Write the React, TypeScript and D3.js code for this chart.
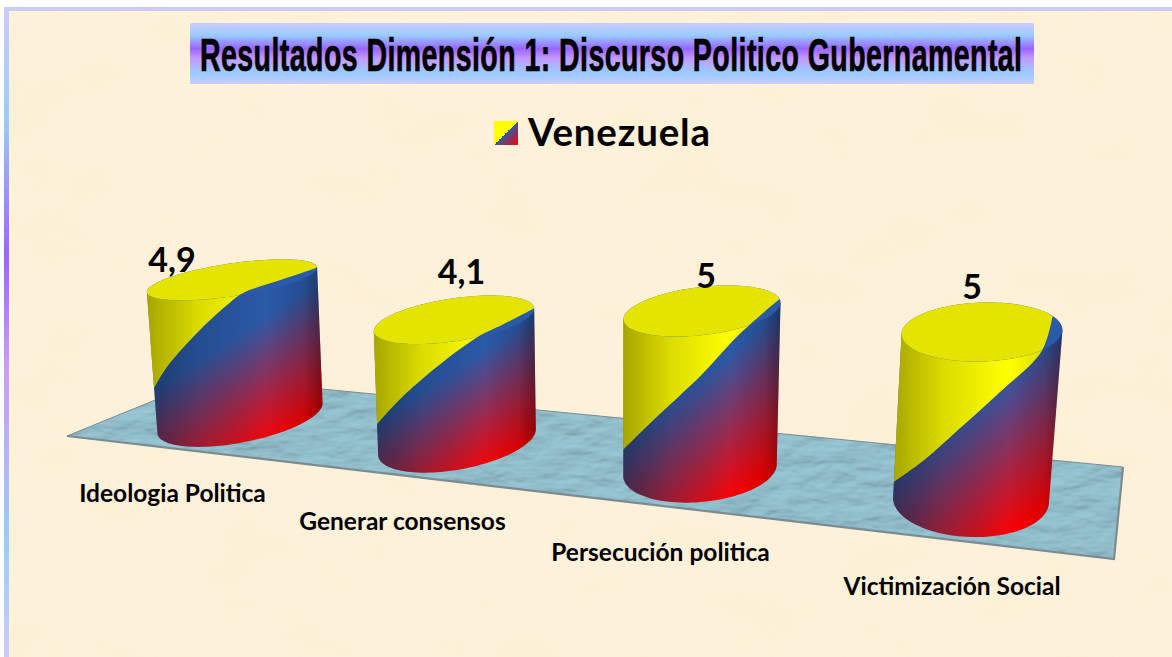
import React from "react";
import * as d3 from "d3";

const titleText = "Resultados Dimensión 1: Discurso Politico Gubernamental";
const seriesName = "Venezuela";
const categories = ["Ideologia Politica", "Generar consensos", "Persecución politica", "Victimización Social"];
const values = [4.9, 4.1, 5, 5];
const valueLabels = ["4,9", "4,1", "5", "5"];

// Per-cylinder yellow/blue boundary, as fractions of each cylinder's outline box.
const edgeU = [
  [0.045, 0.114, 0.284, 0.455, 0.545, 0.756, 0.96],
  [0.018, 0.14, 0.346, 0.636, 0.796, 0.988],
  [0, 0.176, 0.5, 0.737, 0.99],
  [0.006, 0.186, 0.385, 0.627, 0.876, 0.94],
];
const edgeV = [
  [0.68, 0.574, 0.394, 0.245, 0.181, 0.112, 0.048],
  [0.729, 0.605, 0.435, 0.237, 0.164, 0.073],
  [0.756, 0.631, 0.41, 0.226, 0.065],
  [0.765, 0.671, 0.543, 0.385, 0.209, 0.064],
];

const slots = d3.range(categories.length);
const perSlot = (range: number[]) => d3.scaleLinear().domain(slots).range(range);

// Perspective: every quantity changes from the near-left to the far-right slot.
const baseX = perSlot([240, 457, 700, 971]);
const baseY = perSlot([418, 442, 470, 500]);
const unitH = perSlot([28.2, 29.8, 31.8, 33.6]);
const lean = perSlot([-8, -3, 2, 11]);
const topA = perSlot([86, 81, 79, 80.5]);
const topB = perSlot([16.4, 21.4, 24, 29.5]);
const topRot = perSlot([-8.4, -8.5, -6.7, -1.8]);
const baseA = perSlot([84, 80, 77, 78]);
const baseB = perSlot([24.5, 27.5, 32, 37]);
const baseRot = perSlot([-11, -10.4, -5.3, 2]);
const labelX = perSlot([172.5, 402.5, 660.5, 952]);
const labelY = perSlot([502, 530, 561, 595]);
const valueX = perSlot([172, 461.5, 706, 972]);
const valueY = perSlot([272, 284, 288, 299]);

type Ell = { cx: number; cy: number; a: number; b: number; phi: number };
const at = (e: Ell, t: number): [number, number] => [
  e.cx + e.a * Math.cos(t) * Math.cos(e.phi) - e.b * Math.sin(t) * Math.sin(e.phi),
  e.cy + e.a * Math.cos(t) * Math.sin(e.phi) + e.b * Math.sin(t) * Math.cos(e.phi),
];
const extremeT = (e: Ell) => Math.atan2(-e.b * Math.sin(e.phi), e.a * Math.cos(e.phi));
const linePath = d3.line().curve(d3.curveLinearClosed);
const edgeCurve = d3.line().curve(d3.curveCatmullRom);

function cylinder(i: number) {
  const h = d3.scaleLinear().domain([0, 5]).range([0, 5 * unitH(i)]);
  const top: Ell = {
    cx: baseX(i) + lean(i),
    cy: baseY(i) - h(values[i]),
    a: topA(i),
    b: topB(i),
    phi: (topRot(i) * Math.PI) / 180,
  };
  const bot: Ell = { cx: baseX(i), cy: baseY(i), a: baseA(i), b: baseB(i), phi: (baseRot(i) * Math.PI) / 180 };
  const t0 = extremeT(bot);
  const front = d3.range(0, 61).map((k) => at(bot, t0 + (Math.PI * k) / 60));
  const s0 = extremeT(top);
  const side = [at(top, s0 + Math.PI), at(top, s0), ...front];
  const full = d3.range(0, 121).map((k) => at(top, (2 * Math.PI * k) / 120));
  const all = [...full, ...side];
  const [x0, x1] = d3.extent(all, (p) => p[0]) as [number, number];
  const [y0, y1] = d3.extent(all, (p) => p[1]) as [number, number];
  const uS = d3.scaleLinear().range([x0, x1]);
  const vS = d3.scaleLinear().range([y0, y1]);
  const edge = edgeU[i].map((u, k) => [uS(u), vS(edgeV[i][k])] as [number, number]);
  const first = edge[0];
  const edgeD = edgeCurve(edge) as string;
  const yellowD = `${edgeD}L${x1 + 30},${y0 - 30}L${x0 - 30},${y0 - 30}L${x0 - 30},${first[1]}L${first[0] - 30},${first[1] + 22}L${first[0]},${first[1]}Z`;
  return {
    i,
    sideD: linePath(side) as string,
    topD: linePath(full) as string,
    yellowD,
    box: { x0, x1, y0, y1 },
  };
}

const cylinders = slots.map(cylinder);

const floorPts: [number, number][] = [
  [67, 436],
  [209, 378],
  [1123, 467],
  [1114, 559],
];

const flagYellow = "#ffff00";
const flagBlue = "#2b5aa8";
const flagRed = "#ff0000";
const sans = "Lato, Carlito, 'Open Sans', sans-serif";

export default function App() {
  return (
    <svg
      width={1172}
      height={657}
      viewBox="0 0 1172 657"
      style={{ position: "absolute", left: 0, top: 0, display: "block" }}
    >
      <defs>
        <linearGradient id="band" x1="0" y1="0" x2="0" y2="1">
          <stop offset="0" stopColor="#cbcbff" />
          <stop offset="0.2" stopColor="#99ccff" />
          <stop offset="0.42" stopColor="#9966ff" />
          <stop offset="0.58" stopColor="#c299ff" />
          <stop offset="0.82" stopColor="#99ccff" />
          <stop offset="1" stopColor="#cbcbff" />
        </linearGradient>
        <linearGradient id="sideBand" x1="0" y1="0" x2="0" y2="1">
          <stop offset="0" stopColor="#cbcbff" />
          <stop offset="0.17" stopColor="#99ccff" />
          <stop offset="0.38" stopColor="#9966ff" />
          <stop offset="0.55" stopColor="#cc99ff" />
          <stop offset="0.82" stopColor="#99ccff" />
          <stop offset="1" stopColor="#cbcbff" />
        </linearGradient>
        <linearGradient id="blueRed" x1="0.18" y1="0.22" x2="0.66" y2="1">
          <stop offset="0.36" stopColor={flagBlue} />
          <stop offset="1" stopColor={flagRed} />
        </linearGradient>
        <linearGradient id="shade" x1="0" y1="0" x2="1" y2="0">
          <stop offset="0" stopColor="#000" stopOpacity="0.36" />
          <stop offset="0.3" stopColor="#000" stopOpacity="0.14" />
          <stop offset="0.68" stopColor="#000" stopOpacity="0" />
          <stop offset="0.88" stopColor="#000" stopOpacity="0.14" />
          <stop offset="1" stopColor="#000" stopOpacity="0.42" />
        </linearGradient>
        <linearGradient id="legendSwatch" x1="0" y1="0" x2="1" y2="1">
          <stop offset="0.5" stopColor={flagYellow} />
          <stop offset="0.5" stopColor={flagBlue} />
          <stop offset="1" stopColor={flagRed} />
        </linearGradient>
        <filter id="parchment" x="0" y="0" width="100%" height="100%">
          <feTurbulence type="fractalNoise" baseFrequency="0.011 0.019" numOctaves="4" seed="7" />
          <feColorMatrix
            type="matrix"
            values="0 0 0 0 0.93  0 0 0 0 0.83  0 0 0 0 0.58  1.6 0 0 0 -0.62"
          />
        </filter>
        <filter id="water" x="0" y="0" width="100%" height="100%">
          <feTurbulence type="fractalNoise" baseFrequency="0.03 0.065" numOctaves="3" seed="11" result="n" />
          <feDiffuseLighting in="n" surfaceScale="2.4" diffuseConstant="1" lightingColor="#9ac8d6" result="lit">
            <feDistantLight azimuth="250" elevation="62" />
          </feDiffuseLighting>
          <feComposite in="lit" in2="SourceGraphic" operator="in" />
        </filter>
        {cylinders.map((c) => (
          <clipPath id={`side${c.i}`} key={`side${c.i}`}>
            <path d={c.sideD} />
          </clipPath>
        ))}
        {cylinders.map((c) => (
          <clipPath id={`top${c.i}`} key={`top${c.i}`}>
            <path d={c.topD} />
          </clipPath>
        ))}
      </defs>

      <rect x={0} y={0} width={1172} height={657} fill="#ffffff" />
      <rect x={9} y={11} width={1163} height={646} fill="#fdf1da" />
      <rect x={9} y={11} width={1163} height={646} filter="url(#parchment)" opacity={0.36} />
      <rect x={4} y={7} width={5} height={650} fill="url(#sideBand)" />
      <rect x={4} y={7} width={1168} height={4} fill="#cbcbf6" />

      <rect x={190} y={23} width={844} height={61} fill="url(#band)" />
      <text
        transform="translate(200,71) scale(0.62,1)"
        fontFamily="'Liberation Sans Narrow', 'Liberation Sans', sans-serif"
        fontWeight={700}
        fontSize={46}
        letterSpacing={0.7}
        stroke="#000"
        strokeWidth={0.7}
        fill="#000"
      >
        {titleText}
      </text>

      <rect x={494} y={121} width={24} height={24} fill="url(#legendSwatch)" />
      <text x={528} y={146} fontFamily={sans} fontWeight={700} fontSize={38.5} letterSpacing={0.8} fill="#000">
        {seriesName}
      </text>

      <polygon points={floorPts.map((p) => p.join(",")).join(" ")} fill="#89b5c3" filter="url(#water)" />
      <path d={d3.line()([floorPts[2], floorPts[3], floorPts[0]]) as string} fill="none" stroke="#7c8b93" strokeWidth={2.2} />
      <path d={d3.line()([floorPts[0], floorPts[1], floorPts[2]]) as string} fill="none" stroke="#7c8b93" strokeWidth={1} />

      {cylinders.map((c) => {
        const bw = c.box.x1 - c.box.x0;
        const bh = c.box.y1 - c.box.y0;
        return (
          <g key={c.i}>
            <g clipPath={`url(#side${c.i})`}>
              <rect x={c.box.x0 - 2} y={c.box.y0} width={bw + 4} height={bh + 2} fill="url(#blueRed)" />
              <path d={c.yellowD} fill={flagYellow} />
              <rect x={c.box.x0 - 2} y={c.box.y0} width={bw + 4} height={bh + 2} fill="url(#shade)" />
            </g>
            <path d={c.topD} fill={flagBlue} />
            <g clipPath={`url(#top${c.i})`}>
              <path d={c.yellowD} fill="#e4e400" />
            </g>
          </g>
        );
      })}

      {slots.map((i) => (
        <text key={`v${i}`} x={valueX(i)} y={valueY(i)} textAnchor="middle" fontFamily={sans} fontWeight={700} fontSize={34} fill="#000">
          {valueLabels[i]}
        </text>
      ))}
      {slots.map((i) => (
        <text key={`c${i}`} x={labelX(i)} y={labelY(i)} textAnchor="middle" fontFamily={sans} fontWeight={700} fontSize={24.5} fill="#000">
          {categories[i]}
        </text>
      ))}
    </svg>
  );
}
